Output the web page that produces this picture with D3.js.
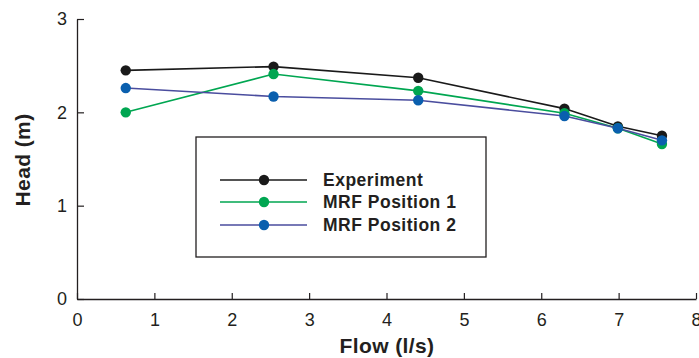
<!DOCTYPE html>
<html>
<head>
<meta charset="utf-8">
<script src="https://cdn.jsdelivr.net/npm/d3@7"></script>
<style>
  html, body { margin: 0; padding: 0; background: #fff; }
  svg { display: block; font-family: "Liberation Sans", Arial, Helvetica, sans-serif; }
</style>
</head>
<body>
<svg id="chart" width="699" height="358"></svg>
<script>
// Pump head versus flow: measurements and two MRF simulations
const flow = [0.63, 2.54, 4.41, 6.30, 6.99, 7.56];
const experiment = [2.45, 2.49, 2.37, 2.04, 1.85, 1.75];
const mrfPosition1 = [2.00, 2.41, 2.23, 1.99, 1.83, 1.66];
const mrfPosition2 = [2.26, 2.17, 2.13, 1.96, 1.83, 1.70];
const seriesNames = ["Experiment", "MRF Position 1", "MRF Position 2"];
const xTicks = [0, 1, 2, 3, 4, 5, 6, 7, 8];
const yTicks = [0, 1, 2, 3];

const series = [
  { name: seriesNames[0], values: experiment, line: "#1a1a1a", dot: "#1a1a1a" },
  { name: seriesNames[1], values: mrfPosition1, line: "#00a651", dot: "#00a651" },
  { name: seriesNames[2], values: mrfPosition2, line: "#4a4d9e", dot: "#0a5fae" }
];

const svg = d3.select("#chart");
const plot = { left: 77, right: 696, top: 19, bottom: 299 };

const x = d3.scaleLinear().domain([0, 8]).range([plot.left, plot.right]);
const y = d3.scaleLinear().domain([0, 3]).range([plot.bottom, plot.top]);

// Axes: ticks point inward, integer labels
const xAxis = svg.append("g")
  .attr("transform", `translate(0,${plot.bottom})`)
  .call(d3.axisBottom(x).tickValues(xTicks).tickFormat(d3.format("d"))
    .tickSize(-6).tickPadding(14).tickSizeOuter(0));
const yAxis = svg.append("g")
  .attr("transform", `translate(${plot.left},0)`)
  .call(d3.axisLeft(y).tickValues(yTicks).tickFormat(d3.format("d"))
    .tickSize(-7).tickPadding(10).tickSizeOuter(0));

[xAxis, yAxis].forEach(a => {
  a.select(".domain").attr("stroke", "#231f20").attr("stroke-width", 1.3);
  a.selectAll(".tick line").attr("stroke", "#231f20").attr("stroke-width", 1.2);
  a.selectAll(".tick text")
    .attr("fill", "#231f20")
    .style("font-size", "18px")
    .style("font-family", "'Liberation Sans', Arial, sans-serif");
});
xAxis.selectAll(".tick text").attr("dy", "0.71em");

// Axis titles
svg.append("text")
  .attr("x", 387).attr("y", 353)
  .attr("text-anchor", "middle")
  .attr("fill", "#231f20")
  .style("font-size", "21px").style("font-weight", "bold")
  .style("letter-spacing", "0.4px")
  .text("Flow (l/s)");

svg.append("text")
  .attr("transform", "translate(30,160) rotate(-90)")
  .attr("text-anchor", "middle")
  .attr("fill", "#231f20")
  .style("font-size", "21px").style("font-weight", "bold")
  .style("letter-spacing", "0.4px")
  .text("Head (m)");

// Legend box
const legend = { x0: 196, y0: 137, x1: 486, y1: 257 };
svg.append("rect")
  .attr("x", legend.x0).attr("y", legend.y0)
  .attr("width", legend.x1 - legend.x0).attr("height", legend.y1 - legend.y0)
  .attr("fill", "#fff").attr("stroke", "#231f20").attr("stroke-width", 1.3);

// Series lines and markers
const line = d3.line().x((d, i) => x(flow[i])).y(d => y(d));
series.forEach(s => {
  svg.append("path")
    .datum(s.values)
    .attr("d", line)
    .attr("fill", "none")
    .attr("stroke", s.line)
    .attr("stroke-width", 1.6);
  svg.append("g").selectAll("circle")
    .data(s.values)
    .join("circle")
    .attr("cx", (d, i) => x(flow[i]))
    .attr("cy", d => y(d))
    .attr("r", 5.2)
    .attr("fill", s.dot);
});

// Legend entries
const rowY = [180, 202, 225];
series.forEach((s, i) => {
  const g = svg.append("g");
  g.append("line")
    .attr("x1", 220).attr("x2", 307)
    .attr("y1", rowY[i]).attr("y2", rowY[i])
    .attr("stroke", s.line).attr("stroke-width", 1.6);
  g.append("circle")
    .attr("cx", 264).attr("cy", rowY[i]).attr("r", 5.2)
    .attr("fill", s.dot);
  g.append("text")
    .attr("x", 323).attr("y", rowY[i] + 6)
    .attr("fill", "#231f20")
    .style("font-size", "17.5px").style("font-weight", "bold")
    .style("letter-spacing", "0.5px")
    .text(s.name);
});
</script>
</body>
</html>
